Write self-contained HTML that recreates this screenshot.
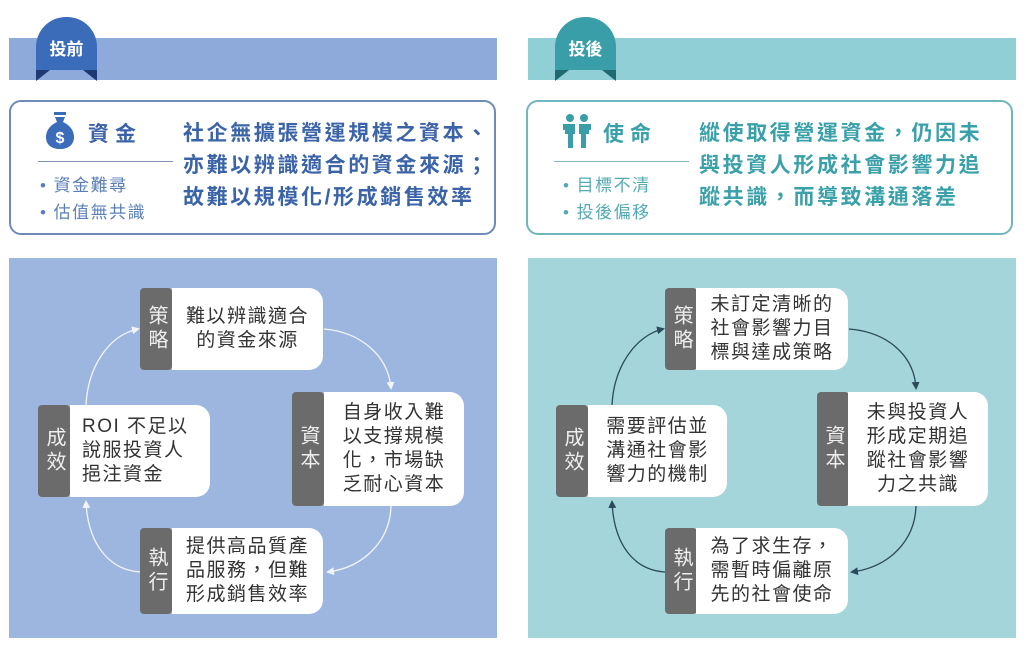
<!DOCTYPE html>
<html><head><meta charset="utf-8">
<style>
body{margin:0;width:1024px;height:662px;background:#fff;position:relative;overflow:hidden;font-family:"Liberation Sans","Noto Sans CJK TC",sans-serif}
.a{position:absolute}
.bar{position:absolute;top:38px;height:42px;width:488px}
.badge{position:absolute;top:17px;width:61px;height:53px;border-radius:30px 30px 0 0;color:#fff;font-weight:bold;font-size:17px;text-align:center;line-height:66px;box-sizing:border-box}
.rib{position:absolute;top:70px;width:0;height:0;border-top:11px solid}
.box{position:absolute;top:100px;height:135px;width:487px;border:2px solid;border-radius:12px;box-sizing:border-box;background:#fff}
.title{position:absolute;font-size:21px;font-weight:bold;letter-spacing:6px}
.bul{position:absolute;font-size:17px;color:#5a7fb8;line-height:27px;letter-spacing:1.5px}
.main{position:absolute;font-size:21px;font-weight:bold;line-height:32px;letter-spacing:2.6px}
.panel{position:absolute;top:258px;height:380px;width:488px}
.tab{position:absolute;background:#6b6b6b;color:#eee;width:32px;border-radius:4px;font-size:20px;line-height:24px;display:flex;align-items:center;justify-content:center;writing-mode:vertical-rl;letter-spacing:4px}
.wb{position:absolute;background:#fff;border-radius:0 14px 14px 0;color:#333;font-size:19px;line-height:24px;display:flex;align-items:center;justify-content:center;text-align:center;letter-spacing:1.5px}
</style></head><body>
<!-- LEFT -->
<div class="bar" style="left:9px;background:#8eaadb"></div>
<div class="badge" style="left:36px;background:#3b6cb9">投前</div>
<div class="rib" style="left:36px;border-top-color:#1e3a72;border-right:14px solid transparent"></div>
<div class="rib" style="left:83px;border-top-color:#1e3a72;border-left:14px solid transparent"></div>
<div class="box" style="left:9px;border-color:#6f8cb8"></div>
<svg class="a" style="left:44px;top:112px" width="32" height="38" viewBox="0 0 32 38"><rect x="10" y="0" width="12" height="3" fill="#3b6cb9"/><path d="M11 5h10l-2 5c7 3 11 9 11 15 0 8-6 12-14 12S2 33 2 25c0-6 4-12 11-15z" fill="#3b6cb9"/><text x="16" y="31" font-size="16" font-weight="bold" fill="#fff" text-anchor="middle" font-family="Liberation Sans">$</text></svg>
<div class="title" style="left:88px;top:118px;color:#3b64a8">資金</div>
<div class="a" style="left:38px;top:161px;width:135px;height:1px;background:#7d93b8"></div>
<div class="bul" style="left:40px;top:172px">• 資金難尋<br>• 估值無共識</div>
<div class="main" style="left:183px;top:118px;color:#3b64a8">社企無擴張營運規模之資本、<br>亦難以辨識適合的資金來源；<br>故難以規模化/形成銷售效率</div>
<div class="panel" style="left:9px;background:#9db6df"></div>
<div class="tab" style="left:140px;top:288px;height:82px">策略</div><div class="wb" style="left:172px;top:288px;width:151px;height:82px">難以辨識適合<br>的資金來源</div>
<div class="tab" style="left:292px;top:392px;height:114px">資本</div><div class="wb" style="left:324px;top:392px;width:140px;height:114px">自身收入難<br>以支撐規模<br>化，市場缺<br>乏耐心資本</div>
<div class="tab" style="left:38px;top:405px;height:92px">成效</div><div class="wb" style="left:70px;top:405px;width:140px;height:92px;justify-content:flex-start;text-align:left;padding-left:12px;box-sizing:border-box">ROI 不足以<br>說服投資人<br>挹注資金</div>
<div class="tab" style="left:140px;top:528px;height:86px">執行</div><div class="wb" style="left:172px;top:528px;width:151px;height:86px">提供高品質產<br>品服務，但難<br>形成銷售效率</div>
<svg class="a" style="left:0;top:0" width="512" height="662">
<defs><marker id="mw" markerWidth="8" markerHeight="8" refX="6" refY="4" orient="auto" markerUnits="userSpaceOnUse"><path d="M0 0L8 4L0 8z" fill="#f2f4f8"/></marker></defs>
<g fill="none" stroke="#f2f4f8" stroke-width="1.3">
<path d="M324 329C360 332 388 355 391 388" marker-end="url(#mw)"/>
<path d="M391 506C390 540 365 567 328 572" marker-end="url(#mw)"/>
<path d="M140 572C110 570 88 545 86 502" marker-end="url(#mw)"/>
<path d="M86 405C88 365 110 335 138 329" marker-end="url(#mw)"/>
</g></svg>
<!-- RIGHT -->
<div class="bar" style="left:528px;background:#8fcfd5"></div>
<div class="badge" style="left:555px;background:#3a9ea9">投後</div>
<div class="rib" style="left:555px;border-top-color:#1f6a70;border-right:14px solid transparent"></div>
<div class="rib" style="left:602px;border-top-color:#1f6a70;border-left:14px solid transparent"></div>
<div class="box" style="left:526px;border-color:#6fb6bd"></div>
<svg class="a" style="left:561px;top:114px" width="32" height="34" viewBox="0 0 32 34"><circle cx="9" cy="4" r="4" fill="#3a9ea9"/><circle cx="23" cy="4" r="4" fill="#3a9ea9"/><path d="M2 10h12v10h-2v14H7V20H4v-4H2z M18 10h12v6h-2v4h-3v14h-5V20h-2z" fill="#3a9ea9"/></svg>
<div class="title" style="left:603px;top:118px;color:#3aa0aa">使命</div>
<div class="a" style="left:554px;top:161px;width:135px;height:1px;background:#7fb8bd"></div>
<div class="bul" style="left:563px;top:172px;color:#55aab2">• 目標不清<br>• 投後偏移</div>
<div class="main" style="left:699px;top:118px;color:#3aa0aa">縱使取得營運資金，仍因未<br>與投資人形成社會影響力追<br>蹤共識，而導致溝通落差</div>
<div class="panel" style="left:528px;background:#a3d5da"></div>
<div class="tab" style="left:665px;top:288px;height:82px">策略</div><div class="wb" style="left:696px;top:288px;width:152px;height:82px">未訂定清晰的<br>社會影響力目<br>標與達成策略</div>
<div class="tab" style="left:817px;top:392px;height:114px">資本</div><div class="wb" style="left:848px;top:392px;width:140px;height:114px">未與投資人<br>形成定期追<br>蹤社會影響<br>力之共識</div>
<div class="tab" style="left:556px;top:405px;height:92px">成效</div><div class="wb" style="left:588px;top:405px;width:139px;height:92px">需要評估並<br>溝通社會影<br>響力的機制</div>
<div class="tab" style="left:665px;top:528px;height:86px">執行</div><div class="wb" style="left:696px;top:528px;width:152px;height:86px">為了求生存，<br>需暫時偏離原<br>先的社會使命</div>
<svg class="a" style="left:512px;top:0" width="512" height="662">
<defs><marker id="md" markerWidth="8" markerHeight="8" refX="6" refY="4" orient="auto" markerUnits="userSpaceOnUse"><path d="M0 0L8 4L0 8z" fill="#2d4a5c"/></marker></defs>
<g fill="none" stroke="#2d4a5c" stroke-width="1.3">
<path d="M337 329C375 332 402 355 404 388" marker-end="url(#md)"/>
<path d="M404 506C403 540 378 567 340 572" marker-end="url(#md)"/>
<path d="M153 572C122 570 102 545 100 502" marker-end="url(#md)"/>
<path d="M100 405C102 365 125 335 151 329" marker-end="url(#md)"/>
</g></svg>
</body></html>
